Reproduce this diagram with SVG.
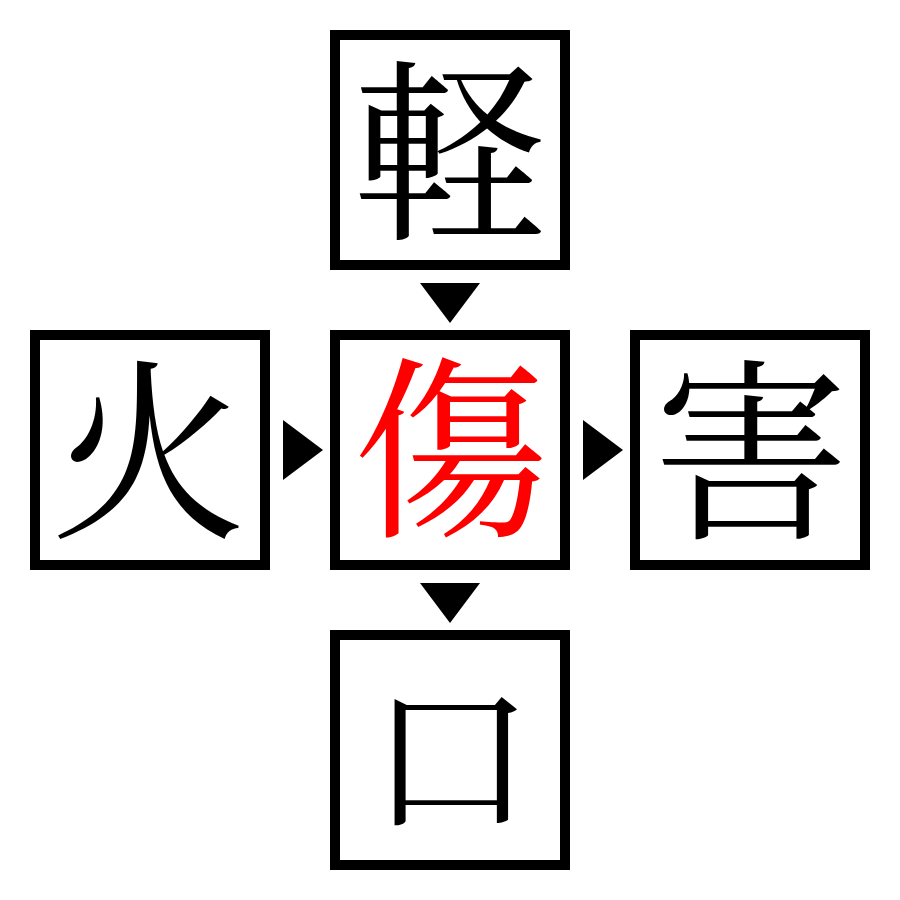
<svg xmlns="http://www.w3.org/2000/svg" width="900" height="900" viewBox="0 0 900 900">
<style>
.box{fill:#fff;stroke:#000;stroke-width:10}
.ch{font-family:"Noto Serif CJK JP","Noto Serif CJK SC","Noto Sans CJK JP",serif;font-size:195px;text-anchor:middle;dominant-baseline:central;fill:#000}
.arr{fill:#000}
</style>
<rect width="900" height="900" fill="#fff"/>
<g id="node-top"><rect class="box" x="335" y="35" width="230" height="230"/><text class="ch" x="450" y="141">軽</text></g>
<g id="node-left"><rect class="box" x="35" y="335" width="230" height="230"/><text class="ch" x="148" y="440">火</text></g>
<g id="node-center"><rect class="box" x="335" y="335" width="230" height="230"/><text class="ch" x="451" y="438" style="fill:#ff0000">傷</text></g>
<g id="node-right"><rect class="box" x="635" y="335" width="230" height="230"/><text class="ch" x="751" y="440">害</text></g>
<g id="node-bottom"><rect class="box" x="335" y="635" width="230" height="230"/><text class="ch" x="451" y="746" style="font-size:165px">口</text></g>
<g id="connectors">
<polygon class="arr" points="420,283 480,283 450,323"/>
<polygon class="arr" points="283,420 283,480 323,450"/>
<polygon class="arr" points="583,420 583,480 623,450"/>
<polygon class="arr" points="420,583 480,583 450,623"/>
</g>
</svg>
